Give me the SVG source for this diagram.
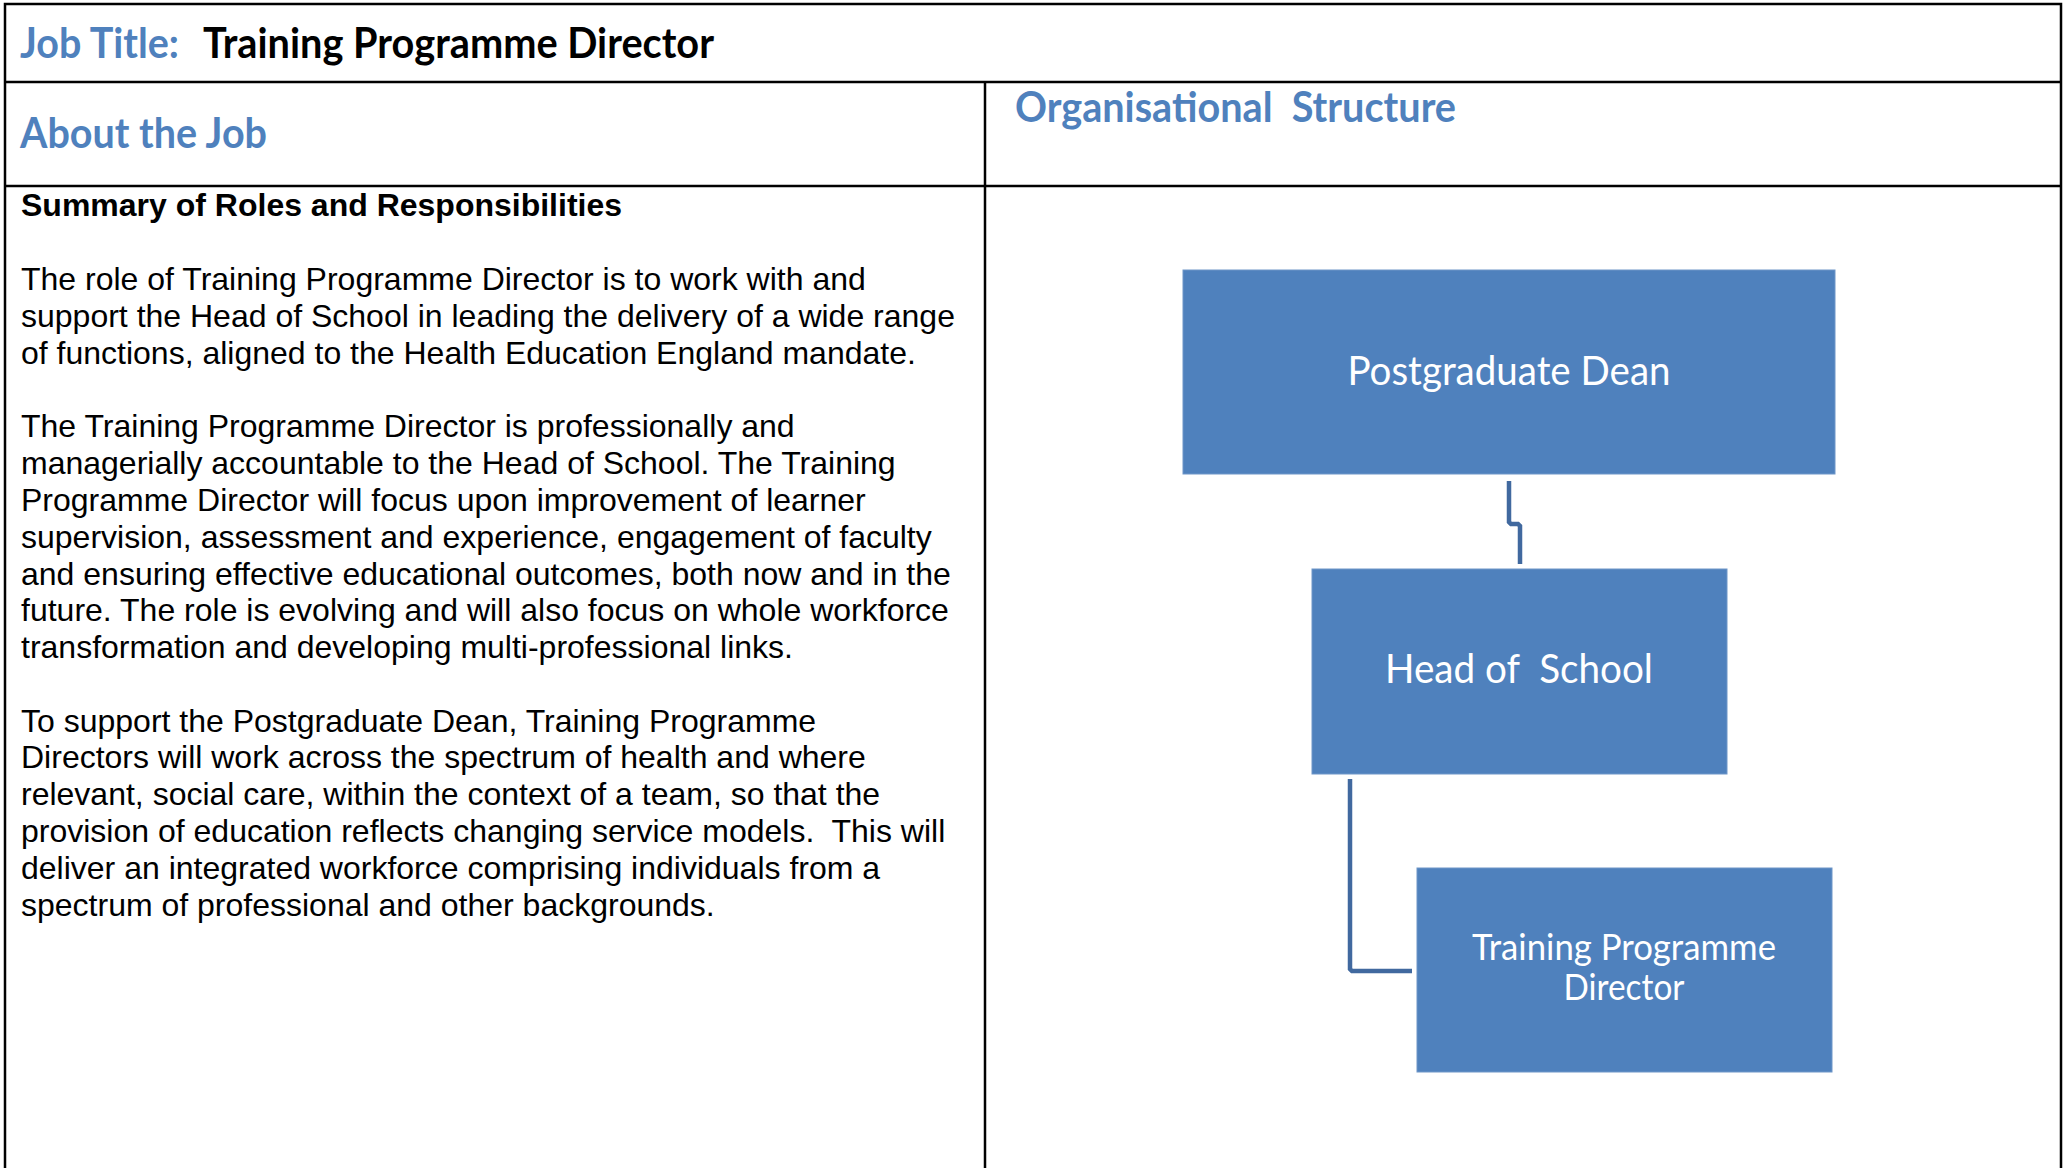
<svg xmlns="http://www.w3.org/2000/svg" width="2065" height="1168" viewBox="0 0 2065 1168">
<style>
text{white-space:pre}
.grid{stroke:#000;stroke-width:2.5;fill:none}
.h{font-family:Lato,"Open Sans",sans-serif;font-weight:bold;font-size:42px;fill:#4F81BD}
.hb{font-family:Lato,"Open Sans",sans-serif;font-weight:bold;font-size:42px;fill:#000}
.body{font-family:"Liberation Sans",Arial,sans-serif;font-size:32px;fill:#000}
.bold{font-weight:bold}
.node{fill:#4F81BD;stroke:#6E96C8;stroke-width:1}
.lbl{font-family:Lato,"Open Sans",sans-serif;fill:#fff;text-anchor:middle}
.conn{stroke:#41699F;stroke-width:4.5;fill:none}
</style>
<rect width="2065" height="1168" fill="#fff"/>
<g id="table">
<path class="grid" d="M5,1168 V4 H2061 V1168 M5,82 H2061 M985,82 V1168 M5,186 H2061"/>
</g>
<g id="headings">
<text class="h" x="20" y="58" textLength="159" lengthAdjust="spacingAndGlyphs">Job Title:</text>
<text class="hb" x="203" y="58" textLength="511" lengthAdjust="spacingAndGlyphs">Training Programme Director</text>
<text class="h" x="20" y="148" textLength="247" lengthAdjust="spacingAndGlyphs">About the Job</text>
<text class="h" x="1015" y="122" textLength="441" lengthAdjust="spacingAndGlyphs">Organisational  Structure</text>
</g>
<g id="body-text" class="body">
<text class="body bold" x="21" y="216">Summary of Roles and Responsibilities</text>
<text class="body" x="21" y="290">The role of Training Programme Director is to work with and</text>
<text class="body" x="21" y="327">support the Head of School in leading the delivery of a wide range</text>
<text class="body" x="21" y="364">of functions, aligned to the Health Education England mandate.</text>
<text class="body" x="21" y="437">The Training Programme Director is professionally and</text>
<text class="body" x="21" y="474">managerially accountable to the Head of School. The Training</text>
<text class="body" x="21" y="511">Programme Director will focus upon improvement of learner</text>
<text class="body" x="21" y="548">supervision, assessment and experience, engagement of faculty</text>
<text class="body" x="21" y="585">and ensuring effective educational outcomes, both now and in the</text>
<text class="body" x="21" y="621">future. The role is evolving and will also focus on whole workforce</text>
<text class="body" x="21" y="658">transformation and developing multi-professional links.</text>
<text class="body" x="21" y="732">To support the Postgraduate Dean, Training Programme</text>
<text class="body" x="21" y="768">Directors will work across the spectrum of health and where</text>
<text class="body" x="21" y="805">relevant, social care, within the context of a team, so that the</text>
<text class="body" x="21" y="842">provision of education reflects changing service models.  This will</text>
<text class="body" x="21" y="879">deliver an integrated workforce comprising individuals from a</text>
<text class="body" x="21" y="916">spectrum of professional and other backgrounds.</text>
</g>
<g id="connectors">
<path class="conn" d="M1509,481 V522 L1511,524 H1518 L1520,526 V564"/>
<path class="conn" d="M1350,779 V969 L1352,971 H1412"/>
</g>
<g id="node-dean">
<rect class="node" x="1183" y="270" width="652" height="204"/>
<text class="lbl" x="1509" y="385" font-size="40" textLength="323" lengthAdjust="spacingAndGlyphs">Postgraduate Dean</text>
</g>
<g id="node-head">
<rect class="node" x="1312" y="569" width="415" height="205"/>
<text class="lbl" x="1519" y="683" font-size="40" textLength="268" lengthAdjust="spacingAndGlyphs">Head of  School</text>
</g>
<g id="node-tpd">
<rect class="node" x="1417" y="868" width="415" height="204"/>
<text class="lbl" x="1624" y="960" font-size="36" textLength="304" lengthAdjust="spacingAndGlyphs">Training Programme</text>
<text class="lbl" x="1624" y="1000" font-size="36" textLength="121" lengthAdjust="spacingAndGlyphs">Director</text>
</g>
</svg>
